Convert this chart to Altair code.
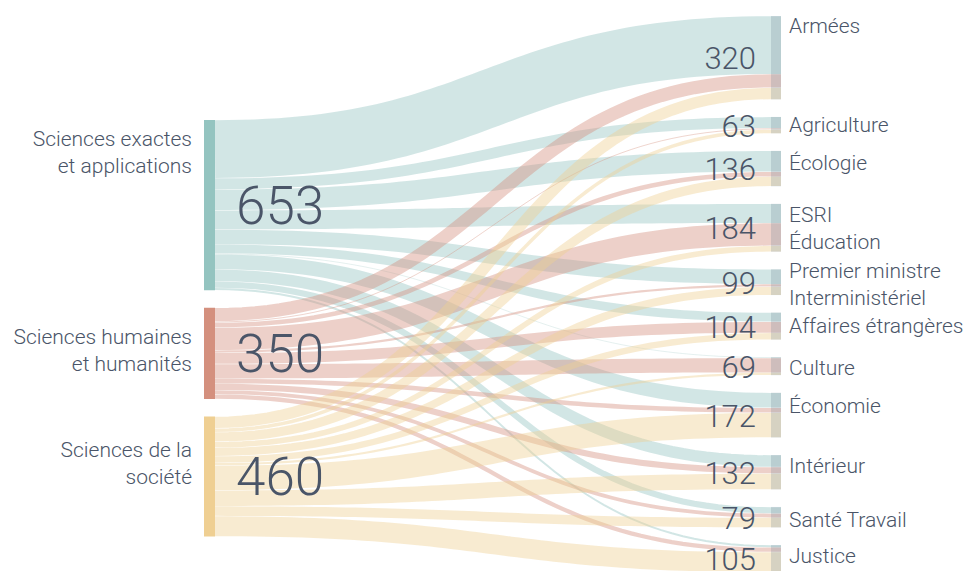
import altair as alt
import pandas as pd
import numpy as np

# ---------------- data ----------------
sources = ["Sciences exactes\net applications",
           "Sciences humaines\net humanités",
           "Sciences de la\nsociété"]
targets = ["Armées", "Agriculture", "Écologie", "ESRI\nÉducation",
           "Premier ministre\nInterministériel", "Affaires étrangères",
           "Culture", "Économie", "Intérieur", "Santé Travail", "Justice"]
flow_exactes = [223, 43, 80, 74, 57, 35, 3, 58, 46, 25, 9]
flow_humaines = [52, 5, 19, 87, 10, 43, 56, 19, 25, 16, 18]
flow_societe = [45, 15, 37, 23, 32, 26, 10, 95, 61, 38, 78]
flows = [flow_exactes, flow_humaines, flow_societe]
source_colors = ["#94c4c0", "#d4907e", "#efcf92"]

# ---------------- layout (sankey) ----------------
W, H = 955, 563
k = 0.2607          # px per unit
pad = 17.5          # node padding
src_x0, src_x1 = 196, 207
tgt_x0, tgt_x1 = 763, 773
src_top, tgt_top = 112, 8
src_label_dy = [26, 36.5, 40.5]
tgt_label_dy = [16.7, 14.8, 19, 17.8, 8.9, 20.6, 17.7, 20.5, 17.6, 19.7, 17.6]

src_vals = [sum(f) for f in flows]
tgt_vals = [sum(f[j] for f in flows) for j in range(len(targets))]

src_y0 = []
y = src_top
for v in src_vals:
    src_y0.append(y)
    y += v * k + pad
tgt_y0 = []
y = tgt_top
for v in tgt_vals:
    tgt_y0.append(y)
    y += v * k + pad

# link positions
rows = []
src_cursor = list(src_y0)
tgt_cursor = list(tgt_y0)
link_ys = {}
for i in range(len(sources)):
    for j in range(len(targets)):
        w = flows[i][j] * k
        link_ys[(i, j)] = [src_cursor[i] + w / 2, None]
        src_cursor[i] += w
for j in range(len(targets)):
    for i in range(len(sources)):
        w = flows[i][j] * k
        link_ys[(i, j)][1] = tgt_cursor[j] + w / 2
        tgt_cursor[j] += w

xm = (src_x1 + tgt_x0) / 2
ts = np.linspace(0, 1, 60)
for i in range(len(sources)):
    for j in range(len(targets)):
        v = flows[i][j]
        y0, y1 = link_ys[(i, j)]
        sw = max(v * k - 0.4, 0.6)
        for t in ts:
            a, b, c, d = (1 - t) ** 3, 3 * (1 - t) ** 2 * t, 3 * (1 - t) * t ** 2, t ** 3
            px = a * src_x1 + b * xm + c * xm + d * tgt_x0
            py = a * y0 + b * y0 + c * y1 + d * y1
            rows.append(dict(link=f"{i}-{j}", src=str(i), x=px, y=py, w=sw))
        rows.append(dict(link=f"{i}-{j}", src=str(i), x=tgt_x1, y=y1, w=sw))
links = pd.DataFrame(rows)

src_nodes = pd.DataFrame(dict(
    name=sources, src=[str(i) for i in range(3)], value=src_vals,
    x0=src_x0, x1=src_x1, y0=src_y0, y1=[a + v * k for a, v in zip(src_y0, src_vals)]))
src_nodes["yc"] = (src_nodes.y0 + src_nodes.y1) / 2
src_nodes["ylab"] = [a + d for a, d in zip(src_y0, src_label_dy)]

tgt_nodes = pd.DataFrame(dict(
    name=targets, value=tgt_vals, x0=tgt_x0, x1=tgt_x1, y0=tgt_y0,
    y1=[a + v * k for a, v in zip(tgt_y0, tgt_vals)]))
tgt_nodes["yc"] = (tgt_nodes.y0 + tgt_nodes.y1) / 2
tgt_nodes["ylab"] = [a + d for a, d in zip(tgt_y0, tgt_label_dy)]

xs = alt.Scale(domain=[0, W], nice=False, zero=False)
ys = alt.Scale(domain=[0, H], nice=False, zero=False, reverse=True)
X = lambda f: alt.X(f, type="quantitative", scale=xs, axis=None)
Y = lambda f: alt.Y(f, type="quantitative", scale=ys, axis=None)
color_scale = alt.Scale(domain=["0", "1", "2"], range=source_colors)

link_layer = alt.Chart(links).mark_line(opacity=0.42, strokeCap="butt", clip=True).encode(
    x=X("x"), y=Y("y"),
    detail="link:N",
    stroke=alt.Stroke("src:N", scale=color_scale, legend=None),
    strokeWidth=alt.StrokeWidth("w:Q", scale=None),
)

src_rect = alt.Chart(src_nodes).mark_rect(clip=True).encode(
    x=X("x0"), x2="x1", y=Y("y0"), y2="y1",
    color=alt.Color("src:N", scale=color_scale, legend=None),
)
tgt_rect = alt.Chart(tgt_nodes).mark_rect(color="#5f7a8f", opacity=0.22, clip=True).encode(
    x=X("x0"), x2="x1", y=Y("y0"), y2="y1",
)

FONT = "Roboto"
TXT = "#4a5568"
src_label = alt.Chart(src_nodes).mark_text(
    align="right", baseline="alphabetic", font=FONT, fontWeight=300, fontSize=21,
    lineBreak="\n", lineHeight=27, color=TXT).encode(
    x=alt.X("xl:Q", scale=xs, axis=None), y=Y("ylab"), text="name:N"
).transform_calculate(xl=f"{src_x0 - 12}")

src_num = alt.Chart(src_nodes).mark_text(
    align="left", baseline="middle", dy=3, font=FONT, fontWeight=300, fontSize=53, color=TXT).encode(
    x=alt.X("xn:Q", scale=xs, axis=None), y=Y("yc"), text="value:Q"
).transform_calculate(xn=f"{src_x1 + 21}")

tgt_label = alt.Chart(tgt_nodes).mark_text(
    align="left", baseline="alphabetic", font=FONT, fontWeight=300, fontSize=21,
    lineBreak="\n", lineHeight=27, color=TXT).encode(
    x=alt.X("xl:Q", scale=xs, axis=None), y=Y("ylab"), text="name:N"
).transform_calculate(xl=f"{tgt_x1 + 8}")

tgt_num = alt.Chart(tgt_nodes).mark_text(
    align="right", baseline="middle", dy=2.5, font=FONT, fontWeight=300, fontSize=31, color=TXT).encode(
    x=alt.X("xn:Q", scale=xs, axis=None), y=Y("yc"), text="value:Q"
).transform_calculate(xn=f"{tgt_x0 - 15}")

chart = alt.layer(link_layer, src_rect, tgt_rect, src_num, tgt_num, src_label, tgt_label).properties(
    width=W, height=H, padding=0, autosize=alt.AutoSizeParams(type="none"),
    background="white",
).configure_view(stroke=None)

chart.save("out.html", embed_options={"renderer": "svg", "actions": False})
